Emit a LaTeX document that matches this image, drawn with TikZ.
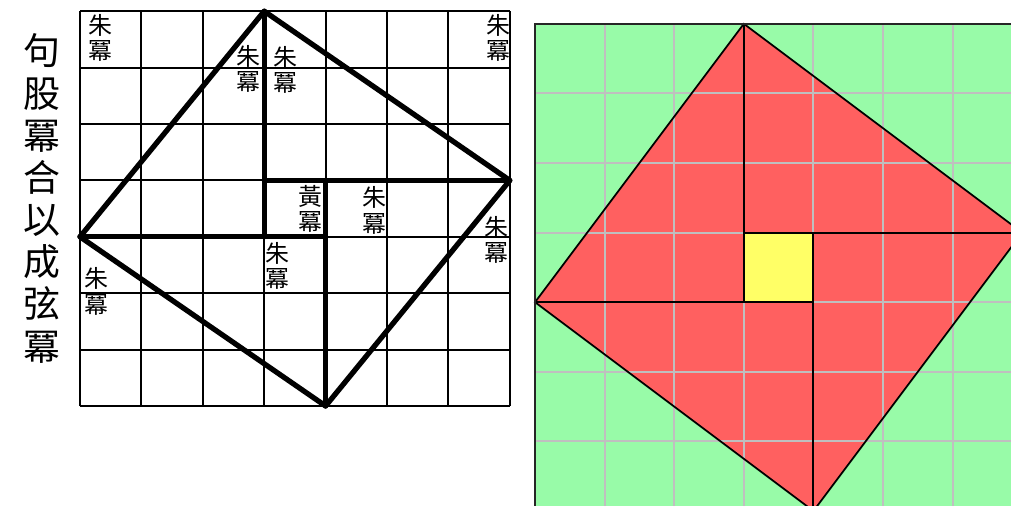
\documentclass[tikz,border=0pt]{standalone}
\usepackage{fontspec}
\newfontfamily\cjk{Noto Sans CJK TC}
\definecolor{zhured}{RGB}{255,96,96}
\definecolor{huangyellow}{RGB}{255,255,102}
\definecolor{gridgreen}{RGB}{152,251,168}
\tikzset{
    milabel/.style={font=\cjk\fontsize{6.8}{7.2}\selectfont, align=center, inner sep=0pt},
    heavy/.style={line width=1.5pt, line cap=round, line join=round}
}
\begin{document}
\begin{tikzpicture}
                \useasboundingbox (0,0) rectangle (10.11,5.05);
                \begin{scope}[shift={(0.80,0.99)},x=0.614cm,y=0.564cm]
                    \foreach \i in {0,...,7}{
                        \draw[line width=0.6pt] (\i,0) -- (\i,7);
                        \draw[line width=0.6pt] (0,\i) -- (7,\i);
                    }
                    \coordinate (top) at (3,7);
                    \coordinate (right) at (7,4);
                    \coordinate (bottom) at (4,0);
                    \coordinate (left) at (0,3);
                    \draw[heavy] (left) -- (top) -- (right) -- (bottom) -- cycle;
                    \draw[heavy] (top) -- (3,3);
                    \draw[heavy] (left) -- (4,3);
                    \draw[heavy] (right) -- (3,4);
                    \draw[heavy] (bottom) -- (4,4);
                    \foreach \p [count=\i] in {(0.33,6.53),(2.75,5.98),(3.34,5.96),(6.81,6.53),(4.79,3.47),(3.22,2.48),(6.78,2.94),(0.26,2.03)}{
                        \node[milabel] (zhu\i) at \p {朱\\冪};
                    }
                    \node[milabel] (huang) at (3.76,3.50) {黃\\冪};
                    \node[font=\cjk\fontsize{10.5}{12}\selectfont, align=center, inner sep=0pt] (title) at (-0.62,3.68) {句\\股\\冪\\合\\以\\成\\弦\\冪};
                \end{scope}
                \begin{scope}
                    \clip (0,0) rectangle (10.11,5.05);
                    \begin{scope}[shift={(5.35,-0.06)},x=0.696cm,y=0.696cm]
                        \fill[gridgreen] (0,0) rectangle (7,7);
                        \coordinate (btop) at (3,7);
                        \coordinate (bright) at (7,4);
                        \coordinate (bbottom) at (4,0);
                        \coordinate (bleft) at (0,3);
                        \fill[zhured] (bleft) -- (btop) -- (bright) -- (bbottom) -- cycle;
                        \foreach \i in {1,...,6}{
                            \draw[black!25,line width=0.6pt] (\i,0) -- (\i,7);
                            \draw[black!25,line width=0.6pt] (0,\i) -- (7,\i);
                        }
                        \fill[huangyellow] (3,3) rectangle (4,4);
                        \draw[line width=0.5pt] (bleft) -- (btop) -- (bright) -- (bbottom) -- cycle;
                        \draw[line width=0.6pt] (btop) -- (3,3);
                        \draw[line width=0.6pt] (bleft) -- (4,3);
                        \draw[line width=0.6pt] (bright) -- (3,4);
                        \draw[line width=0.6pt] (bbottom) -- (4,4);
                        \draw[black!85,line width=0.7pt] (0,0) rectangle (7,7);
                    \end{scope}
                \end{scope}
            \end{tikzpicture}
\end{document}
